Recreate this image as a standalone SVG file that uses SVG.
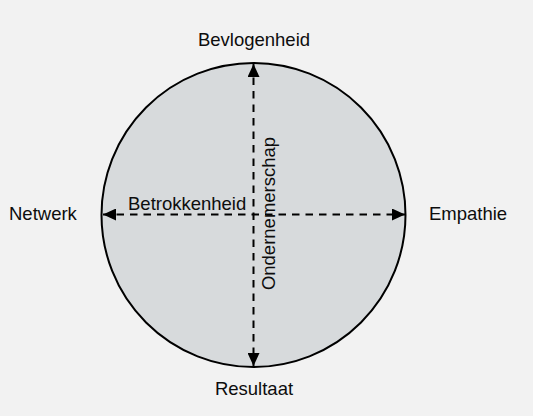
<svg xmlns="http://www.w3.org/2000/svg" width="533" height="416" viewBox="0 0 533 416">
<defs>
<style>
text{font-family:"Liberation Sans",Arial,sans-serif;font-size:18.5px;fill:#0d0d0d}
.ax{stroke:#000;stroke-width:2;stroke-dasharray:7.5,6;fill:none}
</style>
<marker id="ah" viewBox="0 0 13 12" refX="13" refY="6" markerWidth="13" markerHeight="12" markerUnits="userSpaceOnUse" orient="auto-start-reverse">
<path d="M0,0L13,6L0,12z" fill="#000"/>
</marker>
</defs>
<rect width="533" height="416" fill="#f2f2f2"/>
<g id="circle">
<circle cx="253.5" cy="215" r="152" fill="#d7dadc" stroke="#000" stroke-width="2"/>
</g>
<g id="connectors">
<line class="ax" x1="253.5" y1="64" x2="253.5" y2="366" marker-start="url(#ah)" marker-end="url(#ah)"/>
<line class="ax" x1="103" y1="214.5" x2="405" y2="214.5" marker-start="url(#ah)" marker-end="url(#ah)"/>
</g>
<g id="bevlogenheid"><text x="254" y="46" text-anchor="middle">Bevlogenheid</text></g>
<g id="resultaat"><text x="254" y="395" text-anchor="middle">Resultaat</text></g>
<g id="netwerk"><text x="9" y="220">Netwerk</text></g>
<g id="empathie"><text x="429" y="220">Empathie</text></g>
<g id="betrokkenheid"><text x="128" y="210">Betrokkenheid</text></g>
<g id="ondernemerschap"><text x="0" y="0" text-anchor="middle" transform="translate(275,213.5) rotate(-90)">Ondernemerschap</text></g>
</svg>
